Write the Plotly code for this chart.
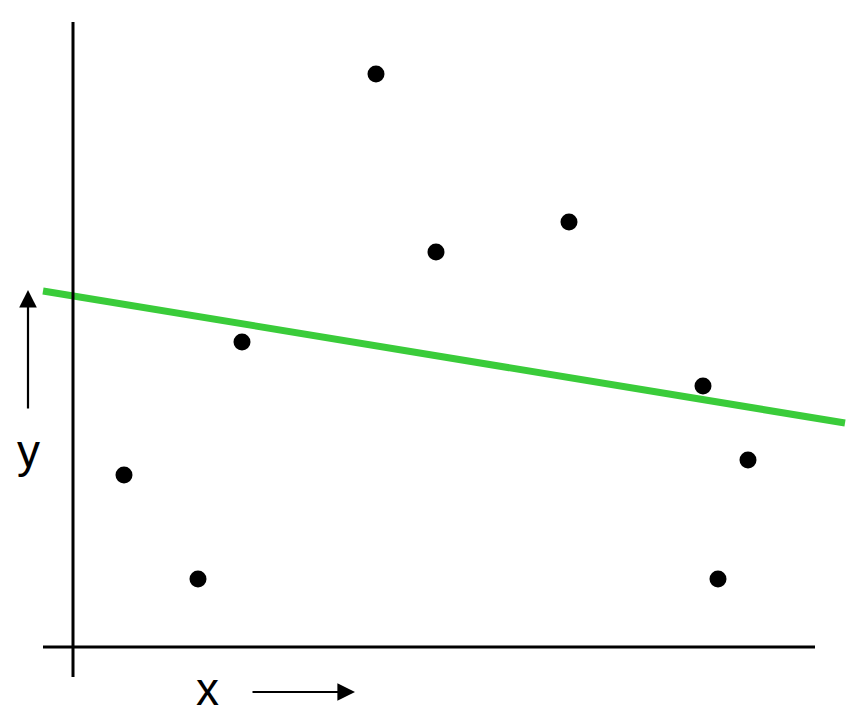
import plotly.graph_objects as go

# scatter points (arbitrary units, origin at the axes crossing)
x_vals = [5.1, 12.5, 16.9, 30.3, 36.3, 49.6, 63.0, 67.5, 64.5]
y_vals = [17.2, 6.8, 30.5, 57.3, 39.5, 42.5, 26.1, 18.7, 6.8]

# fitted line end points
line_x = [-3.0, 77.2]
line_y = [35.6, 22.4]

fig = go.Figure()

fig.add_trace(go.Scatter(x=line_x, y=line_y, mode="lines",
                         line=dict(color="rgb(58,204,58)", width=7), hoverinfo="skip"))
fig.add_trace(go.Scatter(x=x_vals, y=y_vals, mode="markers",
                         marker=dict(color="black", size=17)))

# hand-drawn axes
fig.add_shape(type="line", x0=0, x1=0, y0=-3.0, y1=62.5, line=dict(color="black", width=3))
fig.add_shape(type="line", x0=-3.0, x1=74.2, y0=0, y1=0, line=dict(color="black", width=3))

# axis arrows
fig.add_annotation(x=-4.5, y=35.7, ax=-4.5, ay=23.7, xref="x", yref="y", axref="x", ayref="y",
                   text="", showarrow=True, arrowhead=2, arrowsize=1.6, arrowwidth=2.2, arrowcolor="black")
fig.add_annotation(x=28.2, y=-4.5, ax=17.8, ay=-4.5, xref="x", yref="y", axref="x", ayref="y",
                   text="", showarrow=True, arrowhead=2, arrowsize=1.6, arrowwidth=2.2, arrowcolor="black")

# axis labels
fig.add_annotation(x=-4.5, y=19.6, text="y", showarrow=False,
                   font=dict(family="Liberation Sans, Arial", size=46, color="black"))
fig.add_annotation(x=13.4, y=-4.2, text="x", showarrow=False,
                   font=dict(family="Liberation Sans, Arial", size=46, color="black"))

fig.update_xaxes(range=[-6.5, 79.7], visible=False)
fig.update_yaxes(range=[-8.9, 63.9], visible=False)
fig.update_layout(width=862, height=728, margin=dict(l=0, r=0, t=0, b=0),
                  plot_bgcolor="white", paper_bgcolor="white", showlegend=False)

fig.write_html("out.html")
